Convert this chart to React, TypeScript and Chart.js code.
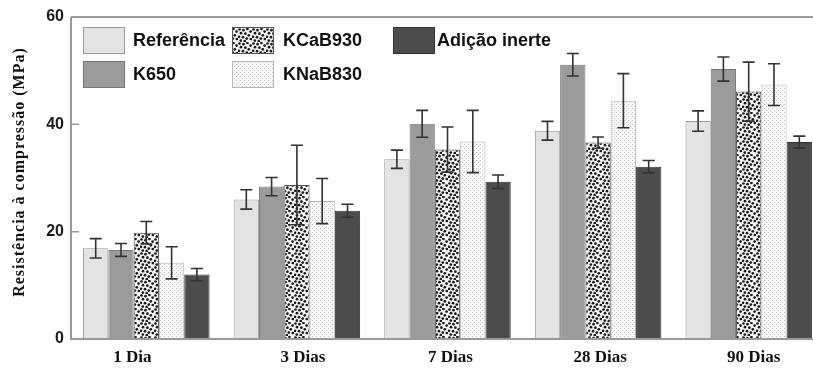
import React, { useEffect, useRef } from "react";
import { Chart, registerables } from "chart.js";

Chart.register(...registerables);

// Compressive strength by curing age (MPa), mean and standard deviation
const categories = ["1 Dia", "3 Dias", "7 Dias", "28 Dias", "90 Dias"];
const seriesNames = ["Referência", "K650", "KCaB930", "KNaB830", "Adição inerte"];

const referencia = [16.9, 26.0, 33.5, 38.8, 40.6];
const k650 = [16.6, 28.4, 40.1, 51.1, 50.3];
const kcab930 = [19.8, 28.7, 35.3, 36.6, 46.1];
const knab830 = [14.2, 25.7, 36.8, 44.4, 47.4];
const adicaoInerte = [12.0, 23.9, 29.3, 32.1, 36.7];

const referenciaErr = [1.8, 1.8, 1.7, 1.75, 1.9];
const k650Err = [1.2, 1.7, 2.5, 2.1, 2.25];
const kcab930Err = [2.1, 7.4, 4.2, 1.05, 5.5];
const knab830Err = [3.0, 4.2, 5.8, 5.05, 3.9];
const adicaoInerteErr = [1.15, 1.2, 1.25, 1.15, 1.1];

const yTicks = [0, 20, 40, 60];
const yTitle = "Resistência à compressão (MPa)";

const SANS = '"Liberation Sans", Arial, sans-serif';
const SERIF = '"Liberation Serif", "Times New Roman", serif';

// horizontal nudge of each category label relative to its group centre
const labelNudge = [-14, 6, 3, 2, 5];

function dotPattern(
  size: number,
  bg: string,
  color: string,
  dots: number[][]
): CanvasPattern | string {
  const c = document.createElement("canvas");
  c.width = size;
  c.height = size;
  const g = c.getContext("2d");
  if (!g) return bg;
  g.fillStyle = bg;
  g.fillRect(0, 0, size, size);
  g.fillStyle = color;
  for (const [x, y, r] of dots) {
    g.beginPath();
    g.arc(x, y, r, 0, Math.PI * 2);
    g.fill();
  }
  return g.createPattern(c, "repeat") || bg;
}

const errorBars = {
  id: "errorBars",
  afterDatasetsDraw(chart: any) {
    const { ctx, scales } = chart;
    const y = scales.y;
    ctx.save();
    ctx.strokeStyle = "#333";
    ctx.lineWidth = 1.6;
    chart.data.datasets.forEach((ds: any, i: number) => {
      const meta = chart.getDatasetMeta(i);
      meta.data.forEach((bar: any, j: number) => {
        const v = ds.data[j];
        const e = ds.errors[j];
        const top = y.getPixelForValue(v + e);
        const bot = y.getPixelForValue(v - e);
        const x = bar.x;
        const cap = 6;
        ctx.beginPath();
        ctx.moveTo(x, top);
        ctx.lineTo(x, bot);
        ctx.moveTo(x - cap, top);
        ctx.lineTo(x + cap, top);
        ctx.moveTo(x - cap, bot);
        ctx.lineTo(x + cap, bot);
        ctx.stroke();
      });
    });
    ctx.restore();
  },
};

const frame = {
  id: "frame",
  afterDatasetsDraw(chart: any) {
    const { ctx, chartArea, scales, width } = chart;
    const { left, top, bottom } = chartArea;
    ctx.save();
    ctx.strokeStyle = "#9a9a9a";
    ctx.lineWidth = 2;
    ctx.beginPath();
    ctx.moveTo(left, top);
    ctx.lineTo(width, top);
    ctx.moveTo(left, top);
    ctx.lineTo(left, bottom);
    ctx.lineTo(width, bottom);
    ctx.stroke();
    // inward tick marks on the value axis
    ctx.lineWidth = 1.5;
    ctx.beginPath();
    yTicks.forEach((t) => {
      const py = scales.y.getPixelForValue(t);
      ctx.moveTo(left, py);
      ctx.lineTo(left + 8, py);
    });
    ctx.stroke();

    // category labels under the groups
    ctx.fillStyle = "#111";
    ctx.font = `bold 17px ${SERIF}`;
    ctx.textAlign = "center";
    ctx.textBaseline = "middle";
    categories.forEach((label, i) => {
      const px = scales.x.getPixelForValue(i) + labelNudge[i];
      ctx.fillText(label, px, bottom + 19);
    });

    // rotated axis title
    ctx.font = `bold 16px ${SERIF}`;
    (ctx as any).letterSpacing = "1px";
    ctx.translate(20, (top + bottom) / 2 - 6);
    ctx.rotate(-Math.PI / 2);
    ctx.fillText(yTitle, 0, 0);
    ctx.restore();
  },
};

// legend drawn inside the plot, 3 columns x 2 rows
const legendCols = [
  { box: 12, text: 62 },
  { box: 161, text: 212 },
  { box: 322, text: 366 },
];
const legendRows = [10, 44];
const legendSlots = [
  [0, 0],
  [0, 1],
  [1, 0],
  [1, 1],
  [2, 0],
];

const insideLegend = {
  id: "insideLegend",
  afterDraw(chart: any) {
    const { ctx, chartArea } = chart;
    ctx.save();
    ctx.font = `bold 18px ${SANS}`;
    ctx.textBaseline = "middle";
    ctx.textAlign = "left";
    chart.data.datasets.forEach((ds: any, i: number) => {
      const [c, r] = legendSlots[i];
      const bx = chartArea.left + legendCols[c].box;
      const by = chartArea.top + legendRows[r];
      ctx.fillStyle = ds.backgroundColor;
      ctx.fillRect(bx, by, 42, 27);
      ctx.strokeStyle = ds.borderColor;
      ctx.lineWidth = 1;
      ctx.strokeRect(bx + 0.5, by + 0.5, 41, 26);
      ctx.fillStyle = "#111";
      ctx.fillText(ds.label, chartArea.left + legendCols[c].text, by + 14);
    });
    ctx.restore();
  },
};

export default function App() {
  const ref = useRef<HTMLCanvasElement | null>(null);

  useEffect(() => {
    const canvas = ref.current;
    if (!canvas) return;

    const kcabFill = dotPattern(14, "#f6f6f6", "#1a1a1a", [
      [1.5, 1.5, 1.35],
      [5.5, 2.2, 1.35],
      [9.4, 1.0, 1.35],
      [12.6, 3.6, 1.35],
      [3.0, 5.2, 1.35],
      [7.4, 5.7, 1.35],
      [10.8, 7.3, 1.35],
      [1.0, 8.8, 1.35],
      [5.0, 9.2, 1.35],
      [8.8, 10.6, 1.35],
      [12.8, 11.0, 1.35],
      [2.8, 12.6, 1.35],
      [6.8, 13.2, 1.35],
    ]);
    const knabFill = dotPattern(4, "#f8f8f8", "#c2c2c2", [
      [0.5, 0.5, 0.6],
      [2.5, 2.5, 0.6],
    ]);

    const seriesValues = [referencia, k650, kcab930, knab830, adicaoInerte];
    const seriesErrors = [referenciaErr, k650Err, kcab930Err, knab830Err, adicaoInerteErr];
    const fills = ["#e3e3e3", "#9b9b9b", kcabFill, knabFill, "#4c4c4c"];
    const borders = ["#9a9a9a", "#777777", "#555555", "#b8b8b8", "#333333"];

    const chart = new Chart(canvas, {
      type: "bar",
      data: {
        labels: categories,
        datasets: seriesNames.map((name, i) => ({
          label: name,
          data: seriesValues[i],
          errors: seriesErrors[i],
          backgroundColor: fills[i] as any,
          borderColor: borders[i],
          borderWidth: 1,
          categoryPercentage: 0.84,
          barPercentage: 1.0,
        })) as any,
      },
      options: {
        responsive: false,
        animation: false,
        devicePixelRatio: 1,
        layout: { padding: { left: 0, top: 17, right: 6, bottom: 0 } },
        plugins: {
          legend: { display: false },
          tooltip: { enabled: false },
        },
        scales: {
          x: {
            offset: true,
            grid: { display: false, drawTicks: false },
            border: { display: false },
            ticks: { display: false },
            afterFit: (s: any) => {
              s.height = 30;
            },
          },
          y: {
            min: 0,
            max: 60,
            grid: { display: false, drawTicks: false },
            border: { display: false },
            ticks: {
              stepSize: 20,
              color: "#1a1a1a",
              font: { family: SANS, size: 16, weight: "bold" },
              padding: 7,
            },
            afterFit: (s: any) => {
              s.width = 71;
            },
          },
        },
      },
      plugins: [errorBars, frame, insideLegend],
    });

    return () => chart.destroy();
  }, []);

  return (
    <div
      style={{
        position: "fixed",
        left: 0,
        top: 0,
        width: 813,
        height: 369,
        overflow: "hidden",
        background: "#fff",
      }}
    >
      <canvas ref={ref} width={830} height={369} style={{ display: "block" }} />
    </div>
  );
}
